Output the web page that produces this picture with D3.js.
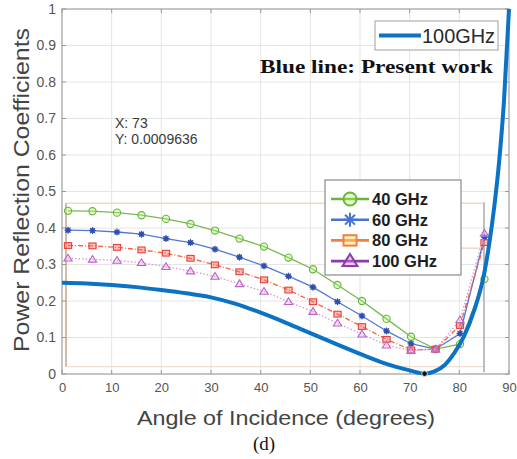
<!DOCTYPE html>
<html>
<head>
<meta charset="utf-8">
<script src="https://cdn.jsdelivr.net/npm/d3@7/dist/d3.min.js"></script>
<style>
  html, body { margin: 0; padding: 0; background: #fff; }
  svg { display: block; }
</style>
</head>
<body>
<svg id="chart" width="517" height="459"></svg>
<script>
// Present work: power reflection coefficient at 100 GHz vs angle of incidence
const presentAngles = [0, 5, 10, 15, 20, 25, 30, 35, 40, 45, 50, 55, 60, 65, 70, 73, 75, 77, 79, 81, 83, 85, 86, 87, 88, 89, 90];
const presentValues = [0.250, 0.248, 0.244, 0.238, 0.230, 0.221, 0.210, 0.192, 0.168, 0.141, 0.112, 0.083, 0.055, 0.029, 0.010, 0.001, 0.007, 0.024, 0.058, 0.105, 0.175, 0.275, 0.355, 0.455, 0.580, 0.750, 1.0];

// Comparison curves (inset axes, 0–85 degrees in 5-degree steps)
const refAngles = [0, 5, 10, 15, 20, 25, 30, 35, 40, 45, 50, 55, 60, 65, 70, 75, 80, 85];
const ghz40  = [0.447, 0.446, 0.442, 0.435, 0.425, 0.411, 0.393, 0.371, 0.349, 0.319, 0.287, 0.244, 0.200, 0.151, 0.102, 0.068, 0.082, 0.260];
const ghz60  = [0.394, 0.393, 0.389, 0.383, 0.371, 0.360, 0.342, 0.320, 0.296, 0.268, 0.238, 0.198, 0.159, 0.118, 0.083, 0.068, 0.111, 0.375];
const ghz80  = [0.352, 0.351, 0.347, 0.340, 0.331, 0.317, 0.299, 0.280, 0.258, 0.230, 0.198, 0.164, 0.130, 0.095, 0.066, 0.068, 0.133, 0.360];
const ghz100 = [0.317, 0.314, 0.311, 0.305, 0.294, 0.282, 0.267, 0.247, 0.226, 0.198, 0.171, 0.139, 0.109, 0.079, 0.064, 0.068, 0.148, 0.385];

const xTicks = [0, 10, 20, 30, 40, 50, 60, 70, 80, 90];
const yTicks = [0, 0.1, 0.2, 0.3, 0.4, 0.5, 0.6, 0.7, 0.8, 0.9, 1];

const tipX = 73, tipY = 0.0009636;

const svg = d3.select("#chart");
const sans = "'Liberation Sans', Arial, sans-serif";
const serif = "'Liberation Serif', 'Times New Roman', serif";

const L = 62, R = 509, T = 9, B = 374;
const x = d3.scaleLinear().domain([0, 90]).range([L, R]);
const y = d3.scaleLinear().domain([0, 1]).range([B, T]);

// inset axes carrying the comparison curves
const xi = d3.scaleLinear().domain([0, 85]).range([68, 484.5]);

// grid
const grid = svg.append("g");
grid.selectAll("line.gx").data(xTicks.slice(1, -1)).join("line")
  .attr("x1", d => x(d)).attr("x2", d => x(d)).attr("y1", T).attr("y2", B)
  .attr("stroke", "#e4e4e4").attr("stroke-width", 1);
grid.selectAll("line.gy").data(yTicks.slice(1, -1)).join("line")
  .attr("x1", L).attr("x2", R).attr("y1", d => y(d)).attr("y2", d => y(d))
  .attr("stroke", "#e4e4e4").attr("stroke-width", 1);

// inset frame
const inset = svg.append("g");
inset.append("line").attr("x1", 66).attr("x2", 484).attr("y1", y(0.468)).attr("y2", y(0.468))
  .attr("stroke", "#f1d9c3").attr("stroke-width", 1.5);
inset.append("line").attr("x1", 66).attr("x2", 66).attr("y1", y(0.468)).attr("y2", y(0.02))
  .attr("stroke", "#caa386").attr("stroke-width", 1.5);
inset.append("line").attr("x1", 66).attr("x2", 484).attr("y1", y(0.02)).attr("y2", y(0.02))
  .attr("stroke", "#ead5c4").attr("stroke-width", 1);
inset.append("line").attr("x1", 484).attr("x2", 484).attr("y1", y(0.47)).attr("y2", y(0.005))
  .attr("stroke", "#a8a8a8").attr("stroke-width", 1.5);
inset.append("line").attr("x1", 430).attr("x2", 484).attr("y1", y(0.345)).attr("y2", y(0.345))
  .attr("stroke", "#e8d2bd").attr("stroke-width", 1.2);

// axes box and ticks
const axes = svg.append("g");
axes.append("rect").attr("x", L).attr("y", T).attr("width", R - L).attr("height", B - T)
  .attr("fill", "none").attr("stroke", "#a6a6a6").attr("stroke-width", 1.3);

const xAxisB = d3.axisBottom(x).tickValues(xTicks).tickSize(0).tickPadding(9).tickFormat(d3.format("d"));
const gx = axes.append("g").attr("transform", `translate(0,${B})`).call(xAxisB);
gx.select(".domain").remove();
gx.selectAll("text").attr("font-family", sans).attr("font-size", 13).attr("fill", "#555");

const yAxisL = d3.axisLeft(y).tickValues(yTicks).tickSize(0).tickPadding(6).tickFormat(d => d === 0 || d === 1 ? d3.format("d")(d) : d3.format(".1f")(d));
const gy = axes.append("g").attr("transform", `translate(${L},0)`).call(yAxisL);
gy.select(".domain").remove();
gy.selectAll("text").attr("font-family", sans).attr("font-size", 14).attr("fill", "#555");

// inward tick marks on all four sides
const tk = 4;
axes.selectAll("line.tb").data(xTicks).join("line")
  .attr("x1", d => x(d)).attr("x2", d => x(d)).attr("y1", B).attr("y2", B - tk).attr("stroke", "#999");
axes.selectAll("line.tt").data(xTicks).join("line")
  .attr("x1", d => x(d)).attr("x2", d => x(d)).attr("y1", T).attr("y2", T + tk).attr("stroke", "#999");
axes.selectAll("line.tl").data(yTicks).join("line")
  .attr("x1", L).attr("x2", L + tk).attr("y1", d => y(d)).attr("y2", d => y(d)).attr("stroke", "#999");
axes.selectAll("line.tr").data(yTicks).join("line")
  .attr("x1", R).attr("x2", R - tk).attr("y1", d => y(d)).attr("y2", d => y(d)).attr("stroke", "#999");

// comparison series
const series = [
  { name: "40 GHz",  values: ghz40,  line: "#76b852", mark: "#6cb146", legend: "#6fb23f", dash: null,      marker: "circle" },
  { name: "60 GHz",  values: ghz60,  line: "#5277d6", mark: "#2f4fb0", legend: "#4a73d0", dash: null,      marker: "star" },
  { name: "80 GHz",  values: ghz80,  line: "#f2653f", mark: "#e8403a", legend: "#f08040", dash: "5,2,1,2", marker: "square" },
  { name: "100 GHz", values: ghz100, line: "#d49ad8", mark: "#b766c4", legend: "#8a3fa8", dash: "1.5,2",   marker: "triangle" }
];

const lineRef = d3.line().x(d => xi(d[0])).y(d => y(d[1]));

function drawMarker(g, kind, cx, cy, color, size, sw) {
  if (kind === "circle") {
    g.append("circle").attr("cx", cx).attr("cy", cy).attr("r", size)
      .attr("fill", d3.color(color).brighter(1.2).copy({opacity: 0.35})).attr("stroke", color).attr("stroke-width", sw);
  } else if (kind === "square") {
    g.append("rect").attr("x", cx - size).attr("y", cy - size * 0.8).attr("width", size * 2).attr("height", size * 1.6)
      .attr("fill", d3.color(color).brighter(1.5).copy({opacity: 0.45})).attr("stroke", color).attr("stroke-width", sw);
  } else if (kind === "triangle") {
    const h = size * 1.1;
    g.append("path").attr("d", `M${cx},${cy - h} L${cx + size * 1.15},${cy + h * 0.7} L${cx - size * 1.15},${cy + h * 0.7} Z`)
      .attr("fill", d3.color(color).brighter(1.5).copy({opacity: 0.4})).attr("stroke", color).attr("stroke-width", sw);
  } else if (kind === "star") {
    const s = size;
    const p = [];
    for (let i = 0; i < 4; i++) {
      const a = i * Math.PI / 4;
      p.push(`M${cx - s * Math.cos(a)},${cy - s * Math.sin(a)} L${cx + s * Math.cos(a)},${cy + s * Math.sin(a)}`);
    }
    g.append("path").attr("d", p.join(" ")).attr("stroke", color).attr("stroke-width", sw).attr("fill", "none");
  }
}

const plotG = svg.append("g");
series.forEach(s => {
  const pts = refAngles.map((a, i) => [a, s.values[i]]);
  plotG.append("path").datum(pts).attr("d", lineRef)
    .attr("fill", "none").attr("stroke", s.line).attr("stroke-width", 1.3)
    .attr("stroke-dasharray", s.dash);
  const mg = plotG.append("g");
  pts.forEach(p => {
    if (s.marker === "star") {
      mg.append("circle").attr("cx", xi(p[0])).attr("cy", y(p[1])).attr("r", 2.6).attr("fill", s.mark).attr("opacity", 0.85);
    }
    drawMarker(mg, s.marker, xi(p[0]), y(p[1]), s.mark, s.marker === "star" ? 3.5 : 3.6, 1.1);
  });
});

// present work curve
const linePresent = d3.line().x(d => x(d[0])).y(d => y(d[1])).curve(d3.curveMonotoneX);
const presentPts = presentAngles.map((a, i) => [a, presentValues[i]]);
svg.append("path").datum(presentPts).attr("d", linePresent)
  .attr("fill", "none").attr("stroke", "#0b72c4").attr("stroke-width", 4).attr("stroke-linejoin", "round");

// data tip
svg.append("circle").attr("cx", x(tipX)).attr("cy", y(tipY)).attr("r", 2.8)
  .attr("fill", "#111").attr("stroke", "#fff").attr("stroke-width", 0.8);
const tip = svg.append("g").attr("font-family", sans).attr("font-size", 14).attr("fill", "#3a3a3a");
tip.append("text").attr("x", 115).attr("y", 128).text(`X: ${tipX}`);
tip.append("text").attr("x", 115).attr("y", 144).text(`Y: ${tipY}`);

// legend: present work
const lg1 = svg.append("g");
lg1.append("rect").attr("x", 375).attr("y", 21).attr("width", 123).attr("height", 29)
  .attr("fill", "#fff").attr("stroke", "#a0a0a0").attr("stroke-width", 1);
lg1.append("line").attr("x1", 379).attr("x2", 421).attr("y1", 35.5).attr("y2", 35.5)
  .attr("stroke", "#0b72c4").attr("stroke-width", 4);
lg1.append("text").attr("x", 422).attr("y", 43).attr("font-family", sans).attr("font-size", 20)
  .attr("fill", "#2a2a2a").attr("textLength", 73).attr("lengthAdjust", "spacingAndGlyphs").text("100GHz");

svg.append("text").attr("x", 260).attr("y", 73).attr("font-family", serif).attr("font-weight", "bold")
  .attr("font-size", 19).attr("fill", "#111")
  .attr("textLength", 233).attr("lengthAdjust", "spacingAndGlyphs")
  .text("Blue line:  Present work");

// legend: comparison curves
const lg2 = svg.append("g");
lg2.append("rect").attr("x", 325).attr("y", 180).attr("width", 136).attr("height", 95)
  .attr("fill", "#fff").attr("stroke", "#8a8a8a").attr("stroke-width", 1.2);
series.forEach((s, i) => {
  const cy = 199 + i * 20.7;
  lg2.append("line").attr("x1", 331).attr("x2", 369).attr("y1", cy).attr("y2", cy)
    .attr("stroke", s.legend).attr("stroke-width", 2.6);
  drawMarker(lg2, s.marker, 350, cy, s.legend, s.marker === "star" ? 7 : 6.5, 2);
  lg2.append("text").attr("x", 372).attr("y", cy + 6).attr("font-family", sans).attr("font-weight", "bold")
    .attr("font-size", 16.5).attr("fill", "#1e1e1e").text(s.name);
});

// axis titles
svg.append("text").attr("transform", `translate(29,190) rotate(-90)`)
  .attr("text-anchor", "middle").attr("font-family", sans).attr("font-size", 22).attr("fill", "#444")
  .attr("textLength", 324).attr("lengthAdjust", "spacingAndGlyphs")
  .text("Power Reflection Coefficients");
svg.append("text").attr("x", 286).attr("y", 425).attr("text-anchor", "middle")
  .attr("font-family", sans).attr("font-size", 21).attr("fill", "#444")
  .attr("textLength", 298).attr("lengthAdjust", "spacingAndGlyphs")
  .text("Angle of Incidence (degrees)");

// panel label
svg.append("text").attr("x", 264).attr("y", 450).attr("text-anchor", "middle")
  .attr("font-family", serif).attr("font-size", 19).attr("fill", "#111").text("(d)");
</script>
</body>
</html>
